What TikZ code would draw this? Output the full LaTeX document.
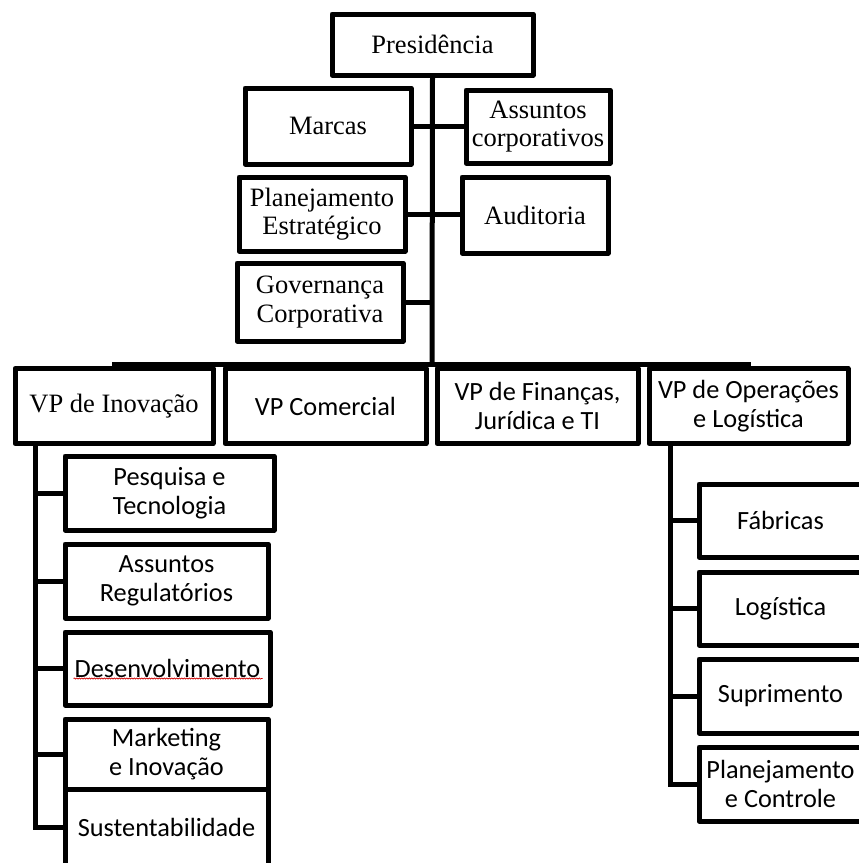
\documentclass[tikz,border=0pt]{standalone}
\usepackage{fontspec}
\setmainfont{Liberation Serif}
\newfontfamily\calfont{Carlito}
\usetikzlibrary{decorations.pathmorphing}
\begin{document}
\begin{tikzpicture}[x=1pt,y=-1pt,
  lw/.style={line width=5pt},
  box/.style={draw,lw,rectangle,inner sep=0pt,align=center,line join=round,
    font=\fontsize{26.5}{28.5}\selectfont},
  cbox/.style={box,font=\calfont\fontsize{26.3}{28.5}\selectfont},
  conn/.style={draw,lw,line join=miter}]
\useasboundingbox (0,0) rectangle (859,863);
% top level
\node[box,minimum width=201pt,minimum height=61pt] (pres) at (432.5,44.5) {Presidência};
\node[box,minimum width=166pt,minimum height=76pt] (marcas) at (328,126) {Marcas};
\node[box,minimum width=144pt,minimum height=73pt] (assc) at (538,126.5) {Assuntos\\corporativos};
\node[box,minimum width=166pt,minimum height=74pt] (plan) at (322,214) {Planejamento\\Estratégico};
\node[box,minimum width=146pt,minimum height=76pt] (audit) at (535,215) {Auditoria};
\node[box,minimum width=166pt,minimum height=78pt] (gov) at (320,302) {Governança\\Corporativa};
% VPs
\node[box,minimum width=198pt,minimum height=75pt] (vpi) at (114,406) {VP de Inovação};
\node[cbox,minimum width=201pt,minimum height=75pt] (vpc) at (325.5,406) {VP Comercial};
\node[cbox,minimum width=201pt,minimum height=75pt] (vpf) at (537.5,406) {VP de Finanças,\\Jurídica e TI};
\node[cbox,minimum width=199pt,minimum height=75pt] (vpo) at (748.5,406) {VP de Operações\\e Logística};
% left children
\node[cbox,minimum width=209pt,minimum height=74pt] (pesq) at (169.5,493) {Pesquisa e\\Tecnologia};
\node[cbox,minimum width=203pt,minimum height=74pt] (areg) at (166.5,581) {Assuntos\\Regulatórios};
\node[cbox,minimum width=205pt,minimum height=73pt] (desen) at (167.5,668.5) {Desenvolvimento};
\node[cbox,minimum width=203pt,minimum height=70pt] (mkt) at (166.5,754) {Marketing\\e Inovação};
\node[cbox,minimum width=203pt,minimum height=77pt] (sust) at (166.5,827.5) {Sustentabilidade};
% right children
\node[cbox,minimum width=163pt,minimum height=73pt] (fab) at (780.5,520.5) {Fábricas};
\node[cbox,minimum width=163pt,minimum height=73pt] (log) at (780.5,608.5) {Logística};
\node[cbox,minimum width=163pt,minimum height=74pt] (sup) at (780.5,696) {Suprimento};
\node[cbox,minimum width=163pt,minimum height=74pt] (plc) at (780.5,784) {Planejamento\\e Controle};
% spell-check underline
\draw[red!80!black,line width=0.6pt,decorate,decoration={snake,amplitude=0.6pt,segment length=2.5pt}]
  ([xshift=-94pt,yshift=-10pt]desen.center) -- ([xshift=95pt,yshift=-10pt]desen.center);
% connectors
\coordinate (bar) at (432,364);
\coordinate (lt) at (35,0);
\coordinate (rt) at (670,0);
\path[conn] (pres.south) -- (bar);
\path[conn] (marcas.east) -- (marcas.east -| assc.west);
\path[conn] (plan.east) -- (plan.east -| audit.west);
\path[conn] (gov.east) -- (gov.east -| bar);
\path[conn] (vpi.north) |- (bar) -| (vpo.north);
\path[conn] (vpc.north) |- (bar);
\path[conn] (vpf.north) |- (bar);
\path[conn] (vpi.south -| lt) |- (sust.west);
\path[conn] (pesq.west -| lt) -- (pesq.west);
\path[conn] (areg.west -| lt) -- (areg.west);
\path[conn] (desen.west -| lt) -- (desen.west);
\path[conn] (mkt.west -| lt) -- (mkt.west);
\path[conn] (vpo.south -| rt) |- (plc.west);
\path[conn] (fab.west -| rt) -- (fab.west);
\path[conn] (log.west -| rt) -- (log.west);
\path[conn] (sup.west -| rt) -- (sup.west);
\end{tikzpicture}
\end{document}
